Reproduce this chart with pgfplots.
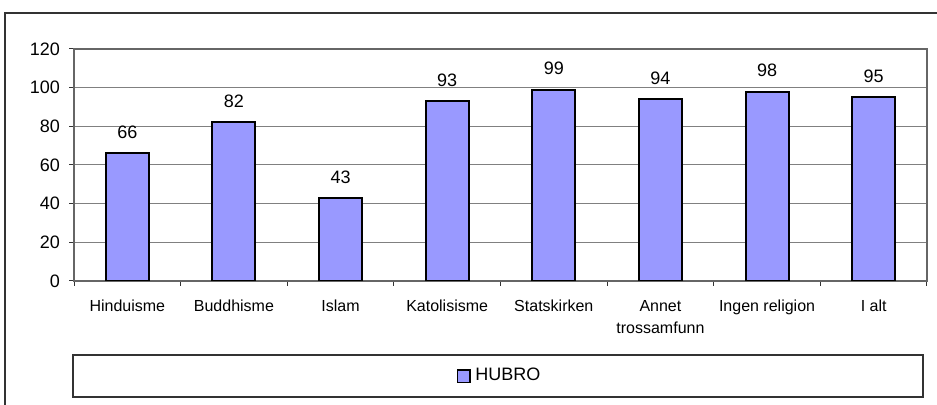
\documentclass[border=0pt]{standalone}
\usepackage{pgfplots}
\pgfplotsset{compat=1.18}
\usepackage{fontspec}
\setmainfont{Liberation Sans}
\definecolor{barfill}{HTML}{9999FF}
\definecolor{gridgray}{HTML}{808080}
\begin{document}
\begin{tikzpicture}[font=\fontsize{9}{11}\selectfont]
\useasboundingbox (0,0) rectangle (468.5pt,-202.5pt);
\draw[line width=0.6pt, black!80] (2.5pt,-203pt) -- (2.5pt,-6.5pt) -- (469pt,-6.5pt);
\draw[line width=0.6pt, black!80] (36.5pt,-177.5pt) rectangle (461.5pt,-198.5pt);
\begin{axis}[
  at={(37pt,-140.5pt)}, anchor=south west,
  scale only axis, width=426.5pt, height=116pt,
  ymin=0, ymax=120, ytick={0,20,...,120},
  xmin=-0.5, xmax=7.5, xtick={0,...,7},
  xticklabels={Hinduisme,Buddhisme,Islam,Katolisisme,Statskirken,{Annet\\trossamfunn},Ingen religion,I alt},
  xticklabel style={align=center, font=\fontsize{8}{11}\selectfont, yshift=-3.5pt},
  yticklabel style={font=\fontsize{9}{11}\selectfont, xshift=-1pt},
  minor xtick={-0.5,0.5,...,7.5},
  major x tick style={draw=none},
  tick style={black!80, line width=0.5pt},
  tick align=outside, tick pos=left,
  major tick length=2.5pt, minor tick length=2.5pt,
  ymajorgrids, grid style={gridgray, line width=0.5pt},
  axis line style={black!60, line width=0.6pt},
  ybar, bar width=21.5pt,
  nodes near coords,
  every node near coord/.append style={font=\fontsize{9}{11}\selectfont, yshift=3.5pt, black},
  legend style={at={(0.5,-0.41)}, anchor=center, draw=none, fill=none, font=\fontsize{9}{11}\selectfont},
  legend image code/.code={\draw[fill=barfill, line width=0.9pt] (0pt,-3.2pt) rectangle (6.4pt,3.2pt);},
  /pgf/number format/assume math mode=true,
]
\addplot[fill=barfill, draw=black, line width=1pt] coordinates {(0,66)(1,82)(2,43)(3,93)(4,99)(5,94)(6,98)(7,95)};
\addlegendentry{HUBRO}
\end{axis}
\end{tikzpicture}
\end{document}
